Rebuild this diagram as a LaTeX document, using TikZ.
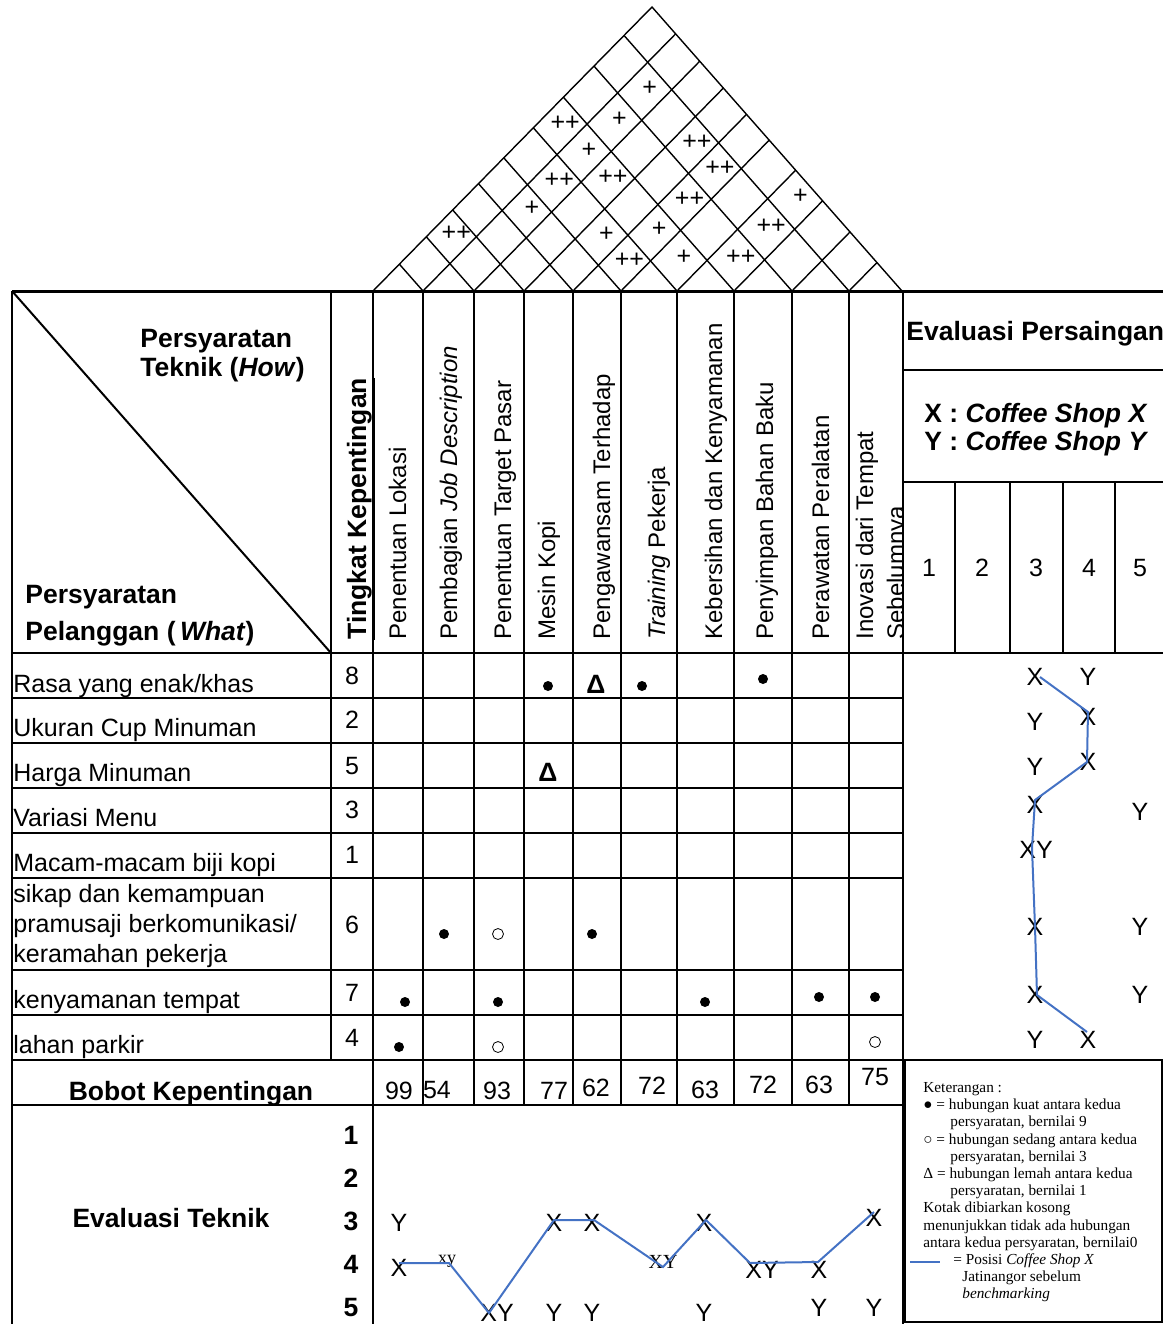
\documentclass[tikz,border=0pt]{standalone}
\usepackage{fontspec}
\setmainfont{Liberation Sans}
\newfontfamily\legendfont{Liberation Serif}
\usepackage{tikz}
\usetikzlibrary{calc}

\definecolor{xblue}{RGB}{68,114,196}
\newcommand\fsrow{\fontsize{12.5}{15}\selectfont}
\newcommand\fsrot{\fontsize{12}{14}\selectfont}
\newcommand\fsbold{\fontsize{13.25}{15}\selectfont\bfseries}
\newcommand\fsleg{\fontsize{7.65}{8.6}\selectfont\legendfont}

\begin{document}
\begin{tikzpicture}[x=0.5pt, y=-0.5pt,
  tbl/.style={line width=1pt},
  roof/.style={line width=0.7pt},
  hdr/.style={rotate=90, anchor=base west, inner sep=0pt, font=\fsrot},
  lbl/.style={anchor=base west, inner sep=0pt, font=\fsrow},
  bld/.style={anchor=base west, inner sep=0pt, font=\fsbold},
  num/.style={inner sep=0pt, font=\fsrow},
  strong/.style={circle, fill, inner sep=0pt, minimum size=5pt},
  medium/.style={circle, draw, line width=0.4pt, inner sep=0pt, minimum size=5.5pt},
  weak/.style={inner sep=0pt, font=\fsbold},
  posline/.style={draw=xblue, line width=1pt}]
  \useasboundingbox (0,0) rectangle (1163,1324);

  % Atap (korelasi)
  \draw[roof] (373,291) -- (652,7) -- (902,291);
  \foreach \b in {423,474,524,573,621,677,734,792,849} {
    \draw[roof] (\b,291) -- ++({0.52741*(902-\b)},{-0.53686*(902-\b)});
    \draw[roof] (\b,291) -- ++({-0.47259*(\b-373)},{-0.53686*(\b-373)});
  }
  % tanda korelasi: pusat kolom i / pusat kolom j / tanda
  \foreach \ci/\cj/\sg [count=\k] in {448.5/820.5/+, 398/705.5/++, 448.5/763/+,
      448.5/705.5/+, 548.5/820.5/++, 448.5/649/++, 499/705.5/++, 597/820.5/++,
      448.5/597/+, 597/763/++, 705.5/876/+, 398/499/++, 548.5/649/+,
      597/705.5/+, 705.5/820.5/++, 597/649/++, 649/705.5/+, 705.5/763/++} {
    \pgfmathsetmacro\hh{(\cj-\ci)/1.86267}
    \node[num] (sg\k) at ({\ci+0.98239*\hh+5},{288-\hh}) {\sg};
  }

  % Kerangka tabel
  \draw[tbl, line width=1.5pt] (12,291) -- (1163,291);
  \draw[tbl] (12,291) -- (12,1324);
  \draw[tbl] (12,291) -- (331,653);
  \draw[tbl] (331,291) -- (331,1060);
  \draw[tbl] (373,291) -- (373,1324);
  \foreach \x in {423,474,524,573,621,677,734,792,849}
    \draw[tbl] (\x,291) -- (\x,1105);
  \draw[tbl] (903,291) -- (903,1324);
  \draw[tbl] (12,653) -- (1163,653);
  \foreach \y in {698,743,788,833,878,970,1015,1060,1105}
    \draw[tbl] (12,\y) -- (903,\y);
  \draw[tbl] (903,370) -- (1163,370);
  \draw[tbl] (903,482) -- (1163,482);
  \foreach \x in {955,1010,1063,1115}
    \draw[tbl] (\x,482) -- (\x,653);
  \draw[tbl] (905,1060) rectangle (1162,1322);

  % Judul pojok
  \node[bld] (how1) at (140,347) {Persyaratan};
  \node[bld] (how2) at (140,376) {Teknik (\textit{How})};
  \node[bld] (what1) at (25,603) {Persyaratan};
  \node[bld] (what2) at (25,640) {Pelanggan (\,\textit{What})};

  % Persyaratan teknik
  \node[hdr, font=\fsbold] (imp) at (366,640) {\underline{Tingkat Kepentingan}};
  \node[hdr] (h1) at (406,640) {Penentuan Lokasi};
  \node[hdr] (h2) at (457,640) {Pembagian \textit{Job Description}};
  \node[hdr] (h3) at (511,640) {Penentuan Target Pasar};
  \node[hdr] (h4) at (555,640) {Mesin Kopi};
  \node[hdr] (h5) at (610,640) {Pengawansam Terhadap};
  \node[hdr] (h6) at (665,640) {\textit{Training} Pekerja};
  \node[hdr] (h7) at (722,640) {Kebersihan dan Kenyamanan};
  \node[hdr] (h8) at (773,640) {Penyimpan Bahan Baku};
  \node[hdr] (h9) at (829,640) {Perawatan Peralatan};
  \begin{scope}
    \clip (849,291) rectangle (903,653);
    \node[hdr] (h10a) at (873,640) {Inovasi dari Tempat};
    \node[hdr] (h10b) at (904,640) {Sebelumnya};
  \end{scope}

  % Evaluasi persaingan (kepala)
  \node[bld] (evp) at (906,340) {Evaluasi Persaingan};
  \node[bld] (kx) at (924,422) {X : \textit{Coffee Shop X}};
  \node[bld] (ky) at (924,450) {Y : \textit{Coffee Shop Y}};
  \foreach \x [count=\k] in {929,982,1036,1089,1140}
    \node[num] (sc\k) at (\x,568) {\k};

  % Kebutuhan pelanggan
  \node[lbl] (w1) at (13,692) {Rasa yang enak/khas};
  \node[lbl] (w2) at (13,736) {Ukuran Cup Minuman};
  \node[lbl] (w3) at (13,781) {Harga Minuman};
  \node[lbl] (w4) at (13,826) {Variasi Menu};
  \node[lbl] (w5) at (13,871) {Macam-macam biji kopi};
  \node[lbl, anchor=west, align=left] (w6) at (13,926) {sikap dan kemampuan\\pramusaji berkomunikasi/\\keramahan pekerja};
  \node[lbl] (w7) at (13,1008) {kenyamanan tempat};
  \node[lbl] (w8) at (13,1053) {lahan parkir};

  % Tingkat kepentingan
  \node[num] (i1) at (352,676) {8};
  \node[num] (i2) at (352,720) {2};
  \node[num] (i3) at (352,766) {5};
  \node[num] (i4) at (352,810) {3};
  \node[num] (i5) at (352,855) {1};
  \node[num] (i6) at (352,925) {6};
  \node[num] (i7) at (352,993) {7};
  \node[num] (i8) at (352,1038) {4};

  % Matriks hubungan
  \node[strong] (r1-4) at (548,686) {};
  \node[weak] (r1-5) at (596,684) {Δ};
  \node[strong] (r1-6) at (642,686) {};
  \node[strong] (r1-8) at (763,679) {};
  \node[weak] (r3-4) at (548,772) {Δ};
  \node[strong] (r6-2) at (444,934) {};
  \node[medium] (r6-3) at (498,934) {};
  \node[strong] (r6-5) at (592,934) {};
  \node[strong] (r7-1) at (405,1002) {};
  \node[strong] (r7-3) at (498,1002) {};
  \node[strong] (r7-7) at (705,1002) {};
  \node[strong] (r7-9) at (819,997) {};
  \node[strong] (r7-10) at (875,997) {};
  \node[strong] (r8-1) at (399,1047) {};
  \node[medium] (r8-3) at (498,1047) {};
  \node[medium] (r8-10) at (875,1042) {};

  % Bobot kepentingan
  \node[bld, anchor=base] (bobot) at (191,1100) {Bobot Kepentingan};
  \node[num] (b1) at (399,1091) {99};
  \node[num] (b2) at (437,1090) {54};
  \node[num] (b3) at (497,1091) {93};
  \node[num] (b4) at (554,1091) {77};
  \node[num] (b5) at (596,1088) {62};
  \node[num] (b6) at (652,1086) {72};
  \node[num] (b7) at (705,1090) {63};
  \node[num] (b8) at (763,1085) {72};
  \node[num] (b9) at (819,1085) {63};
  \node[num] (b10) at (875,1077) {75};

  % Evaluasi teknik
  \node[bld, anchor=base] (evt) at (171,1227) {Evaluasi Teknik};
  \foreach \y [count=\k] in {1135,1178,1221,1264,1307}
    \node[num, font=\fsbold] (lv\k) at (351,\y) {\k};
  \node[num] (ty1) at (399,1223) {Y};
  \node[num] (tx1) at (399,1268) {X};
  \node[num, font=\fontsize{9}{10}\selectfont\legendfont] (txy2) at (447,1261) {xy};
  \node[num] (txy3) at (497,1313) {XY};
  \node[num] (tx4) at (554,1223) {X};
  \node[num] (ty4) at (554,1313) {Y};
  \node[num] (tx5) at (592,1223) {X};
  \node[num] (ty5) at (592,1313) {Y};
  \node[num, font=\fontsize{10}{11}\selectfont\legendfont] (txy6) at (663,1262) {XY};
  \node[num] (tx7) at (704,1223) {X};
  \node[num] (ty7) at (704,1313) {Y};
  \node[num] (txy8) at (762,1270) {XY};
  \node[num] (tx9) at (819,1270) {X};
  \node[num] (ty9) at (819,1308) {Y};
  \node[num] (tx10) at (874,1218) {X};
  \node[num] (ty10) at (874,1308) {Y};
  \coordinate (p1) at (399,1263);
  \coordinate (p2) at (449,1263);
  \coordinate (p3) at (489,1313);
  \coordinate (p4) at (554,1220);
  \coordinate (p5) at (594,1220);
  \coordinate (p6) at (663,1267);
  \coordinate (p7) at (706,1220);
  \coordinate (p8) at (750,1263);
  \coordinate (p9) at (818,1262);
  \coordinate (p10) at (874,1212);
  \draw[posline] (p1) -- (p2) -- (p3) -- (p4) -- (p5) -- (p6) -- (p7) -- (p8) -- (p9) -- (p10);

  % Evaluasi persaingan (isi)
  \node[num] (cx1) at (1035,677) {X};
  \node[num] (cy1) at (1088,677) {Y};
  \node[num] (cy2) at (1035,722) {Y};
  \node[num] (cx2) at (1088,717) {X};
  \node[num] (cy3) at (1035,767) {Y};
  \node[num] (cx3) at (1088,762) {X};
  \node[num] (cx4) at (1035,805) {X};
  \node[num] (cy4) at (1140,812) {Y};
  \node[num] (cxy5) at (1036,850) {XY};
  \node[num] (cx6) at (1035,927) {X};
  \node[num] (cy6) at (1140,927) {Y};
  \node[num] (cx7) at (1035,995) {X};
  \node[num] (cy7) at (1140,995) {Y};
  \node[num] (cy8) at (1035,1040) {Y};
  \node[num] (cx8) at (1088,1040) {X};
  \coordinate (q1) at (1040,677);
  \coordinate (q2) at (1088,712);
  \coordinate (q3) at (1087,762);
  \coordinate (q4) at (1035,800);
  \coordinate (q5) at (1032,848);
  \coordinate (q6) at (1035,927);
  \coordinate (q7) at (1037,995);
  \coordinate (q8) at (1087,1032);
  \draw[posline] (q1) -- (q2) -- (q3) -- (q4) -- (q5) -- (q6) -- (q7) -- (q8);

  % Keterangan
  \node[anchor=north west, inner sep=0pt, align=left, font=\fsleg] (ket) at (923,1082)
    {Keterangan :\\
     ● = hubungan kuat antara kedua\\
     \hspace*{13.5pt}persyaratan, bernilai 9\\
     ○ = hubungan sedang antara kedua\\
     \hspace*{13.5pt}persyaratan, bernilai 3\\
     Δ = hubungan lemah antara kedua\\
     \hspace*{13.5pt}persyaratan, bernilai 1\\
     Kotak dibiarkan kosong\\
     menunjukkan tidak ada hubungan\\
     antara kedua persyaratan, bernilai0\\
     \hspace*{15pt}= Posisi \textit{Coffee Shop X}\\
     \hspace*{19.5pt}Jatinangor sebelum\\
     \hspace*{19.5pt}\textit{benchmarking}};
  \coordinate (lg1) at (910,1262);
  \coordinate (lg2) at (940,1262);
  \draw[posline] (lg1) -- (lg2);
\end{tikzpicture}
\end{document}
